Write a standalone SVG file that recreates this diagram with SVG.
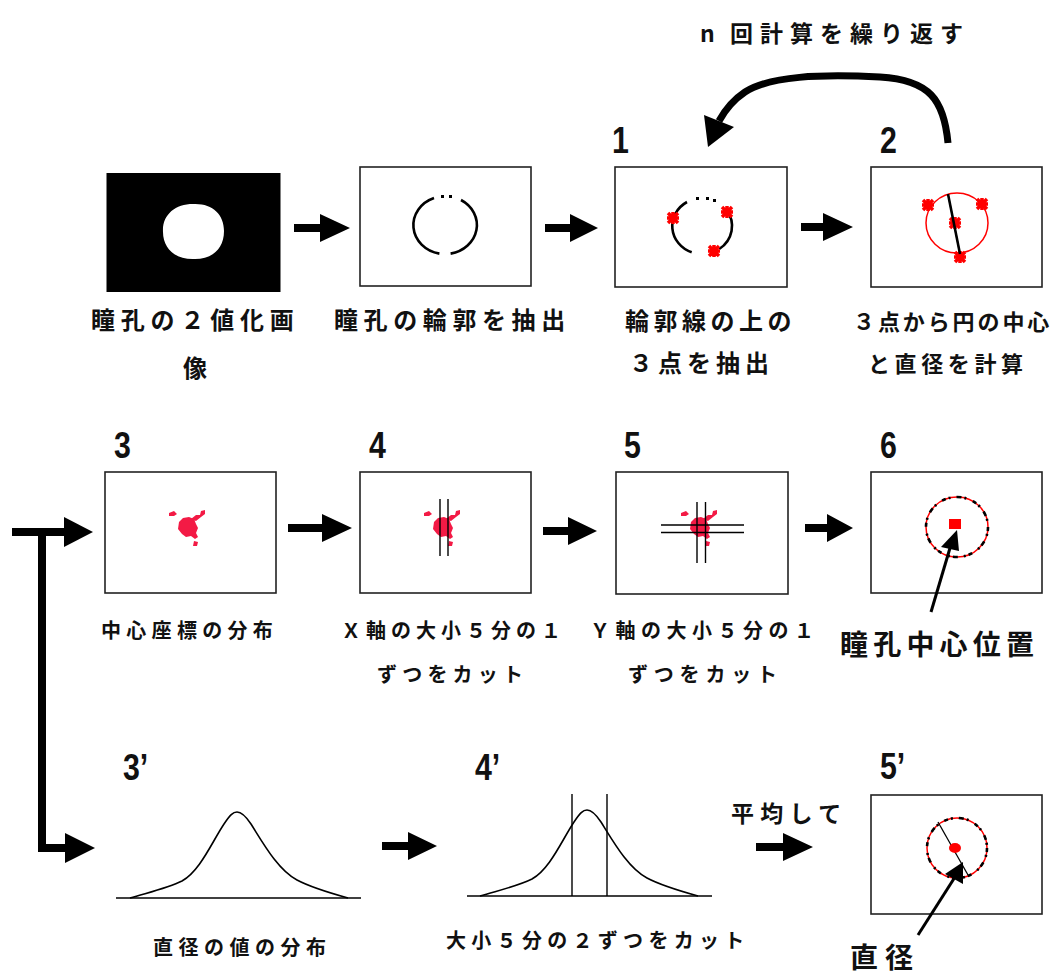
<svg xmlns="http://www.w3.org/2000/svg" xmlns:xlink="http://www.w3.org/1999/xlink" width="1053" height="979" viewBox="0 0 1053 979">
<style>
.box{fill:#fff;stroke:#222;stroke-width:1.6}
.lbl{font-family:"Noto Sans CJK JP","Noto Sans CJK SC",sans-serif;font-weight:700;fill:#111}
.num{font-family:"Liberation Sans",Arial,sans-serif;font-weight:700;font-size:37px;fill:#111}
.arr{fill:#000}
.thin{stroke:#000;stroke-width:1.4;fill:none}
.cont{fill:none;stroke:#000;stroke-width:2.6}
.rc{fill:none;stroke:#f00;stroke-width:1.5}
.dash{fill:none;stroke:#000;stroke-width:2.6;stroke-dasharray:4 3 2 6 5 3 2 7}
.blob{fill:#f31a45}
</style>
<defs>
<g id="xm"><path d="M-5,-5 L5,5 M5,-5 L-5,5 M0,-6 V6 M-6,0 H6" stroke="#f00" stroke-width="3.5" fill="none"/></g>
<path id="blob" d="M-9,-5 L-5,-9 L1,-10 L6,-8 L8,-3 L10,1 L8,6 L10,10 L7,12 L3,9 L-2,10 L-6,7 L-10,2 Z M3,-8 L8,-12 L12,-12 L13,-16 L17,-17 L17,-13 L13,-10 L8,-6 Z M-19,-14 L-14,-16 L-11,-13 L-14,-11 L-19,-11 Z M6,14 L10,15 L9,19 L5,19 Z"/>
<path id="gauss" d="M130,898 C150,892 168,888 182,881 C200,871 212,842 224,824 C230,815 233,812 237,812 C241,812 245,815 251,824 C263,843 278,870 297,880 C312,888 330,893 348,898" fill="none" stroke="#000" stroke-width="1.6"/>
</defs>

<g id="loop-label">
<text class="lbl" font-size="23" y="42"><tspan x="700">n</tspan><tspan x="730" letter-spacing="7">回計算を繰り返す</tspan></text>
</g>

<g id="node-binary">
<rect x="106.5" y="173" width="174" height="119" fill="#000"/>
<path d="M193,204 C212,203 224,214 224,231 C224,249 212,259 195,259 C176,260 163,249 163,232 C162,215 175,204 193,204 Z" fill="#fff"/>
<text class="lbl" font-size="24" x="91" y="329" letter-spacing="5.8">瞳孔の２値化画</text>
<text class="lbl" font-size="24" x="183" y="377">像</text>
</g>

<g id="node-contour">
<rect class="box" x="360" y="167" width="171" height="119"/>
<path class="cont" d="M434,198 A32,29 0 0 0 439.4,253.6 M461,200 A32,29 0 0 1 450.6,253.6"/>
<rect x="441" y="195" width="3" height="3"/><rect x="449" y="195" width="3" height="3"/>
<text class="lbl" font-size="24" x="334" y="329" letter-spacing="5.6">瞳孔の輪郭を抽出</text>
</g>

<g id="node-1">
<text class="num" transform="translate(612,153) scale(0.82,1)">1</text>
<rect class="box" x="615" y="167" width="172" height="120"/>
<path class="cont" d="M687,202 A30,28 0 0 0 691.7,252.3 M726.6,210 A30,28 0 0 1 719.2,249"/>
<rect x="696" y="197" width="3" height="3"/><rect x="706" y="197" width="3" height="3"/><rect x="713" y="199" width="3" height="3"/>
<use xlink:href="#xm" x="673" y="218"/>
<use xlink:href="#xm" x="727" y="212"/>
<use xlink:href="#xm" x="714" y="251"/>
<text class="lbl" font-size="24" x="625" y="330" letter-spacing="4.5">輪郭線の上の</text>
<text class="lbl" font-size="24" x="629" y="372" letter-spacing="5">３点を抽出</text>
</g>

<g id="node-2">
<text class="num" transform="translate(880,153) scale(0.82,1)">2</text>
<rect class="box" x="871" y="167" width="171" height="120"/>
<ellipse class="rc" cx="957" cy="223" rx="31" ry="30"/>
<use xlink:href="#xm" x="928" y="205"/>
<use xlink:href="#xm" x="982" y="204"/>
<use xlink:href="#xm" x="960" y="257"/>
<use xlink:href="#xm" x="955" y="223"/>
<line x1="948" y1="194" x2="960" y2="254" stroke="#000" stroke-width="2.6"/>
<text class="lbl" font-size="22" x="853" y="330" letter-spacing="2.9">３点から円の中心</text>
<text class="lbl" font-size="22" x="868" y="372" letter-spacing="4.6">と直径を計算</text>
</g>

<g id="node-3">
<text class="num" transform="translate(114,458) scale(0.82,1)">3</text>
<rect class="box" x="105" y="472" width="171" height="121"/>
<use xlink:href="#blob" class="blob" x="188" y="527"/>
<text class="lbl" font-size="20" x="101" y="638" letter-spacing="5.3">中心座標の分布</text>
</g>

<g id="node-4">
<text class="num" transform="translate(369,458) scale(0.82,1)">4</text>
<rect class="box" x="360" y="472" width="171" height="121"/>
<use xlink:href="#blob" class="blob" x="443" y="527"/>
<path class="thin" d="M440,499 V556 M448,499 V556"/>
<text class="lbl" font-size="20" x="341" y="638" letter-spacing="5">Ｘ軸の大小５分の１</text>
<text class="lbl" font-size="20" x="377" y="682" letter-spacing="5.2">ずつをカット</text>
</g>

<g id="node-5">
<text class="num" transform="translate(624,458) scale(0.82,1)">5</text>
<rect class="box" x="616" y="472" width="172" height="122"/>
<use xlink:href="#blob" class="blob" x="700" y="527"/>
<path class="thin" d="M697,502 V563 M705.5,502 V563 M661,525 H744 M661,532.5 H744"/>
<text class="lbl" font-size="20" x="590" y="638" letter-spacing="5.5">Ｙ軸の大小５分の１</text>
<text class="lbl" font-size="20" x="628" y="682" letter-spacing="5.8">ずつをカット</text>
</g>

<g id="node-6">
<text class="num" transform="translate(880,458) scale(0.82,1)">6</text>
<rect class="box" x="871" y="472" width="171" height="121"/>
<ellipse class="rc" cx="957" cy="527" rx="31" ry="30"/>
<ellipse class="dash" cx="957" cy="527" rx="31" ry="30"/>
<rect x="949" y="519" width="12" height="10" fill="#f00"/>
<line x1="931" y1="612" x2="950" y2="548" stroke="#000" stroke-width="3"/>
<path d="M957,530 L941,547 L959,551 Z" fill="#000"/>
<text class="lbl" font-size="28" x="840" y="655" letter-spacing="5.2">瞳孔中心位置</text>
</g>

<g id="node-3p">
<text class="num" transform="translate(123,780) scale(0.82,1)">3’</text>
<use xlink:href="#gauss"/>
<line x1="116" y1="898" x2="361" y2="898" stroke="#000" stroke-width="1.6"/>
<text class="lbl" font-size="20" x="153" y="955" letter-spacing="5.5">直径の値の分布</text>
</g>

<g id="node-4p">
<text class="num" transform="translate(475,780) scale(0.82,1)">4’</text>
<use xlink:href="#gauss" transform="translate(350,-2)"/>
<line x1="467" y1="896" x2="712" y2="896" stroke="#000" stroke-width="1.6"/>
<path class="thin" d="M572,794 V896 M607,794 V896"/>
<text class="lbl" font-size="20" x="446" y="948" letter-spacing="5.3">大小５分の２ずつをカット</text>
</g>

<g id="node-5p">
<text class="num" transform="translate(880,779) scale(0.82,1)">5’</text>
<rect class="box" x="871" y="795" width="171" height="119"/>
<ellipse class="rc" cx="957" cy="848" rx="30" ry="30"/>
<ellipse class="dash" cx="957" cy="848" rx="30" ry="30"/>
<line x1="938" y1="822" x2="968" y2="875" stroke="#000" stroke-width="1.3"/>
<ellipse cx="955" cy="848" rx="6" ry="5" fill="#f00"/>
<line x1="918" y1="935" x2="955" y2="877" stroke="#000" stroke-width="3"/>
<path d="M963,862 L945,874 L963,884 Z" fill="#000"/>
<text class="lbl" font-size="28" x="850" y="968" letter-spacing="7">直径</text>
</g>

<g id="avg-label">
<text class="lbl" font-size="23" x="731" y="822" letter-spacing="6.3">平均して</text>
</g>

<g id="connectors">
<path class="arr" d="M294,224 H320 V214 L350,228 L320,242 V232 H294 Z"/>
<path class="arr" d="M545,224 H570 V214 L598,228 L570,242 V232 H545 Z"/>
<path class="arr" d="M801,223 H823 V213 L853,227 L823,241 V231 H801 Z"/>
<path class="arr" d="M288,524 H322 V514 L352,528 L322,542 V532 H288 Z"/>
<path class="arr" d="M543,527 H568 V517 L597,531 L568,545 V535 H543 Z"/>
<path class="arr" d="M805,524 H827 V514 L853,528 L827,542 V532 H805 Z"/>
<path class="arr" d="M382,842 H408 V832 L437,846 L408,860 V850 H382 Z"/>
<path class="arr" d="M756,843 H783 V833 L813,847 L783,861 V851 H756 Z"/>
<path d="M12,532 H66 M42,532 V848 H66" fill="none" stroke="#000" stroke-width="8"/>
<path class="arr" d="M64,517 L93,532 L64,547 Z"/>
<path class="arr" d="M65,833 L95,848 L65,863 Z"/>
<path d="M948,143 C944,100 930,80 880,77 C820,74 770,76 745,92 C733,100 725,110 719,121" fill="none" stroke="#000" stroke-width="7"/>
<path class="arr" d="M708,147 L704,115 L734,127 Z"/>
</g>
</svg>
